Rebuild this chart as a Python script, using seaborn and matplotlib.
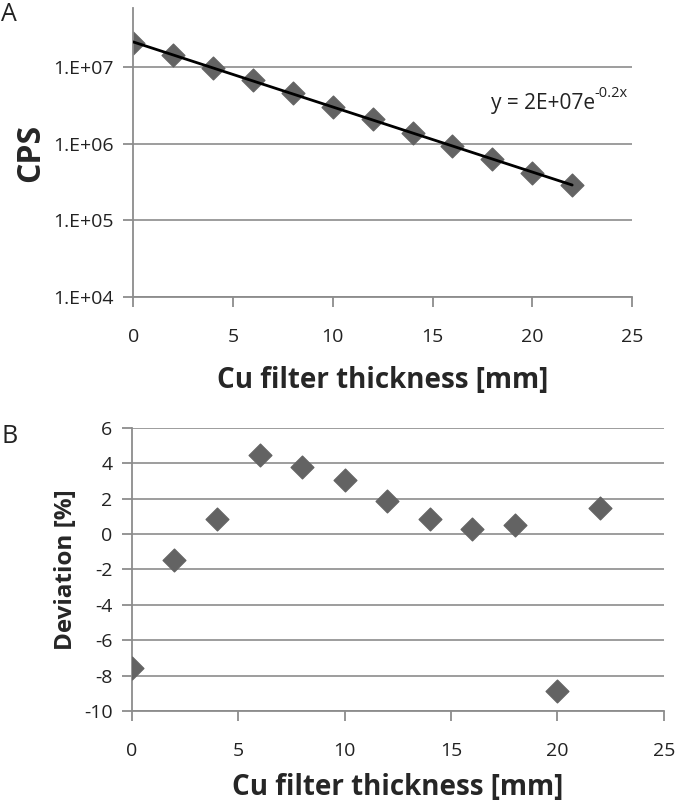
import numpy as np
import pandas as pd
import seaborn as sns
import matplotlib.pyplot as plt
from matplotlib.ticker import FixedLocator, FixedFormatter

# data
thickness = [0, 2, 4, 6, 8, 10, 12, 14, 16, 18, 20, 22]
cps = [2.05e7, 1.43e7, 9.7e6, 6.8e6, 4.6e6, 3.0e6, 2.1e6, 1.38e6, 9.4e5, 6.3e5, 4.1e5, 2.9e5]
deviation = [-7.57, -1.5, 0.83, 4.46, 3.8, 3.05, 1.86, 0.83, 0.28, 0.5, -8.87, 1.47]

x_ticks = [0, 5, 10, 15, 20, 25]
cps_ticks = [1e4, 1e5, 1e6, 1e7]
cps_labels = ["1.E+04", "1.E+05", "1.E+06", "1.E+07"]
dev_ticks = [-10, -8, -6, -4, -2, 0, 2, 4, 6]

sns.set_style("white")
plt.rcParams["font.family"] = ["Open Sans", "DejaVu Sans"]
plt.rcParams["axes.unicode_minus"] = False
plt.rcParams["xtick.bottom"] = True
plt.rcParams["ytick.left"] = True

MARK = "#636363"
GRID = "#8c8c8c"
TXT = "#222222"

df = pd.DataFrame({"x": thickness, "cps": cps, "dev": deviation})

# exponential trendline fitted to the counts
slope, icpt = np.polyfit(df["x"], np.log(df["cps"]), 1)
fit = pd.DataFrame({"x": [thickness[0], thickness[-1]]})
fit["y"] = np.exp(icpt) * np.exp(slope * fit["x"])

fig = plt.figure(figsize=(6.76, 8.07), dpi=100)
ax1 = fig.add_axes([0.197, 0.632, 0.738, 0.358])
ax2 = fig.add_axes([0.195, 0.119, 0.787, 0.351])


def style_axes(ax):
    for s in ["top", "right"]:
        ax.spines[s].set_visible(False)
    for s in ["left", "bottom"]:
        ax.spines[s].set_color(GRID)
        ax.spines[s].set_linewidth(1.3)
    ax.grid(True, axis="y", color=GRID, linewidth=1.2)
    ax.set_axisbelow(True)
    ax.tick_params(axis="both", which="major", direction="out", length=7, width=1.3,
                   color=GRID, labelsize=14, labelcolor=TXT, bottom=True, left=True)
    ax.tick_params(axis="x", pad=15)
    ax.tick_params(axis="y", pad=7)
    ax.tick_params(axis="y", which="minor", length=0, left=False)
    ax.set_xlim(0, 25)
    ax.set_xticks(x_ticks)


# panel A
sns.lineplot(data=fit, x="x", y="y", ax=ax1, color="black", linewidth=2, zorder=3)
sns.scatterplot(data=df, x="x", y="cps", ax=ax1, marker="D", s=135, color=MARK,
                edgecolor=MARK, zorder=2)
ax1.set_yscale("log")
ax1.set_ylim(1e4, 10 ** 7.77)
ax1.yaxis.set_major_locator(FixedLocator(cps_ticks))
ax1.yaxis.set_major_formatter(FixedFormatter(cps_labels))
style_axes(ax1)
ax1.set_xlabel("Cu filter thickness [mm]", fontsize=20, fontweight="bold", labelpad=15)
ax1.set_ylabel("CPS", fontsize=23, fontweight="bold", labelpad=4)

eq = ax1.text(0.925, 0.67, "y = 2E+07e", transform=ax1.transAxes,
              ha="right", va="center", fontsize=15, color=TXT)
ax1.annotate("-0.2x", xy=(1.0, 0.62), xycoords=eq, ha="left", va="bottom",
             fontsize=10.5, color=TXT)

# panel B
sns.scatterplot(data=df, x="x", y="dev", ax=ax2, marker="D", s=135, color=MARK,
                edgecolor=MARK, zorder=3)
ax2.set_ylim(-10, 6)
ax2.set_yticks(dev_ticks)
style_axes(ax2)
ax2.set_xlabel("Cu filter thickness [mm]", fontsize=20, fontweight="bold", labelpad=10)
ax2.set_ylabel("Deviation [%]", fontsize=17.5, fontweight="bold", labelpad=4)

fig.text(0.002, 0.997, "A", fontsize=18, ha="left", va="top", color=TXT)
fig.text(0.002, 0.474, "B", fontsize=18, ha="left", va="top", color=TXT)

fig.savefig("out.png", dpi=100)
